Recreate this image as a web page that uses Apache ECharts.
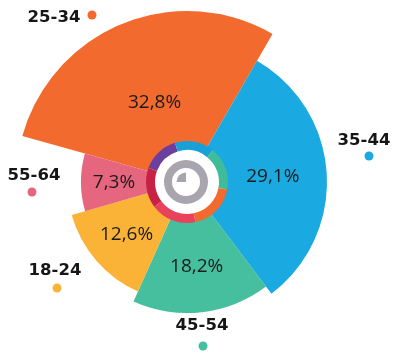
<!DOCTYPE html>
<html>
<head>
<meta charset="utf-8">
<script src="https://cdn.jsdelivr.net/npm/echarts@6/dist/echarts.min.js"></script>
<style>
  html, body { margin: 0; padding: 0; background: #fff; }
  #chart { width: 400px; height: 355px; }
</style>
</head>
<body>
<div id="chart"></div>
<script>
// age groups, clockwise starting at the left edge of the big orange slice
const ageGroups = ['25-34', '35-44', '45-54', '18-24', '55-64'];
const shares = [32.8, 29.1, 18.2, 12.6, 7.3];
// angle each slice really takes in the drawing (deg) - the artist did not keep it proportional
const sweeps = [104.4, 112.9, 61.2, 49.9, 31.6];
// how far out each slice reaches
const reach = [171, 140, 131, 120, 106];
const sliceColors = ['#f26a2e', '#1ba9e1', '#45bf9d', '#fbb337', '#e7667f'];

// thin ring round the clock icon, clockwise from 160deg
const ringSweeps = [53, 56, 62, 67, 65, 57];
const ringColors = ['#6c3f9e', '#1aa0d6', '#3fbd9a', '#f26a2e', '#e9435c', '#c72244'];

// where the age tags + their dots sit (layout only)
const tagPos = [[54, 18, 92, 15], [364, 141, 369, 156], [202, 326, 203, 346], [55, 271, 57, 288], [34, 176, 32, 192]];

const fmt = v => v.toFixed(1).replace('.', ',') + '%';

let acc = 0;
const sliceData = sweeps.map((s, i) => {
  const item = [acc, acc + s, reach[i], shares[i]];
  acc += s;
  return item;
});

const INNER = 40;

function renderSlice(params, api) {
  const cs = params.coordSys;
  const cx = cs.cx, cy = cs.cy;
  const a0 = api.value(0), a1 = api.value(1), r = api.value(2);
  const p0 = api.coord([r, a0]);
  const p1 = api.coord([r, a1]);
  const pin = api.coord([INNER, a0]);
  const radius = Math.hypot(p0[0] - cx, p0[1] - cy);
  const r0 = Math.hypot(pin[0] - cx, pin[1] - cy);
  let s = Math.atan2(p0[1] - cy, p0[0] - cx);
  let e = Math.atan2(p1[1] - cy, p1[0] - cx);
  if (e <= s) e += Math.PI * 2;

  const labelR = Math.min(86, (INNER + r) / 2);
  const lp = api.coord([labelR, (a0 + a1) / 2]);

  return {
    type: 'group',
    children: [
      {
        type: 'sector',
        shape: { cx: cx, cy: cy, r0: r0, r: radius, startAngle: s, endAngle: e, clockwise: true },
        style: { fill: sliceColors[params.dataIndex] }
      },
      {
        type: 'text',
        x: lp[0],
        y: lp[1],
        style: {
          text: fmt(api.value(3)),
          fill: '#1b1b1b',
          font: '19px "Open Sans", sans-serif',
          align: 'center',
          verticalAlign: 'middle'
        }
      }
    ]
  };
}

const graphics = [];
ageGroups.forEach((g, i) => {
  const p = tagPos[i];
  graphics.push({
    type: 'text', x: p[0], y: p[1],
    style: { text: g, fill: '#161616', font: 'bold 16.5px "DejaVu Sans", sans-serif', align: 'center', verticalAlign: 'middle' }
  });
  graphics.push({
    type: 'circle', shape: { cx: p[2], cy: p[3], r: 4.5 },
    style: { fill: sliceColors[i] }
  });
});

const chart = echarts.init(document.getElementById('chart'));
chart.setOption({
  animation: false,
  backgroundColor: '#fff',
  polar: { center: [187, 182], radius: 171 },
  angleAxis: {
    type: 'value', min: 0, max: 360, startAngle: 164.4, clockwise: true,
    show: false, splitLine: { show: false }
  },
  radiusAxis: { type: 'value', min: 0, max: 171, show: false, splitLine: { show: false } },
  graphic: graphics,
  series: [
    {
      type: 'custom',
      coordinateSystem: 'polar',
      renderItem: renderSlice,
      data: sliceData,
      silent: true,
      z: 1
    },
    {
      type: 'pie',
      center: [187, 182],
      radius: [32, 41],
      startAngle: 160,
      clockwise: true,
      silent: true,
      label: { show: false },
      labelLine: { show: false },
      itemStyle: { borderWidth: 0 },
      data: ringSweeps.map((v, i) => ({ value: v, itemStyle: { color: ringColors[i] } })),
      z: 3
    },
    {
      // clock icon: grey ring
      type: 'pie',
      center: [186, 182],
      radius: [14, 22],
      silent: true,
      label: { show: false },
      labelLine: { show: false },
      data: [{ value: 1, itemStyle: { color: '#a8a5ae' } }],
      z: 3
    },
    {
      // clock icon: quarter wedge
      type: 'pie',
      center: [186, 182],
      radius: [0, 9.5],
      startAngle: 180,
      clockwise: true,
      silent: true,
      label: { show: false },
      labelLine: { show: false },
      data: [
        { value: 25, itemStyle: { color: '#a8a5ae' } },
        { value: 75, itemStyle: { color: 'rgba(0,0,0,0)' } }
      ],
      z: 3
    }
  ]
});
</script>
</body>
</html>
